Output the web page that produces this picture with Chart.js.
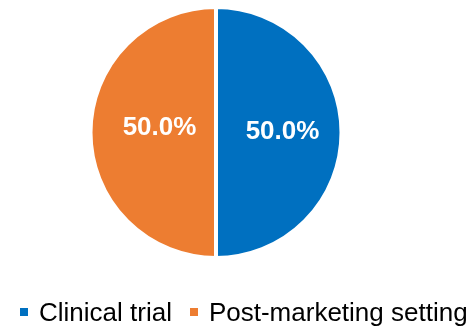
<!DOCTYPE html>
<html>
<head>
<meta charset="utf-8">
<script src="https://cdn.jsdelivr.net/npm/chart.js@4.4.0/dist/chart.umd.min.js"></script>
<style>
  html, body { margin: 0; padding: 0; background: #fff; }
  #wrap { position: relative; width: 472px; height: 327px; }
  #legend {
    position: absolute; left: 20px; top: 297px;
    display: flex; align-items: center; white-space: nowrap;
    font-family: "Liberation Sans", Arial, sans-serif; font-size: 26px; color: #000;
    line-height: 30px;
  }
  .item { display: flex; align-items: center; margin-right: 18px; }
  .box { width: 8px; height: 8px; margin-right: 11px; }
</style>
</head>
<body>
<div id="wrap">
  <canvas id="pieChart" width="472" height="327"></canvas>
  <div id="legend"></div>
</div>
<script>
// Chart data
const categories = ['Clinical trial', 'Post-marketing setting'];
const shares = [50, 50];
const colors = ['#0070C0', '#ED7D31'];

// Percentage labels drawn inside each slice
const sliceLabels = {
    id: 'sliceLabels',
    afterDatasetsDraw(chart, args, opts) {
        const ctx = chart.ctx;
        const meta = chart.getDatasetMeta(0);
        const data = chart.data.datasets[0].data;
        const total = data.reduce((a, b) => a + b, 0);
        ctx.save();
        ctx.fillStyle = '#fff';
        ctx.font = 'bold 26px "Liberation Sans", Arial, sans-serif';
        ctx.textAlign = 'center';
        ctx.textBaseline = 'middle';
        meta.data.forEach((arc, i) => {
            const p = arc.getProps(['x', 'y', 'startAngle', 'endAngle', 'outerRadius']);
            const mid = (p.startAngle + p.endAngle) / 2;
            const r = p.outerRadius * opts.radius[i];
            const text = (data[i] / total * 100).toFixed(1) + '%';
            ctx.fillText(text, p.x + Math.cos(mid) * r, p.y + Math.sin(mid) * r + opts.dy[i]);
        });
        ctx.restore();
    }
};

new Chart(document.getElementById('pieChart'), {
    type: 'pie',
    data: {
        labels: categories,
        datasets: [{
            data: shares,
            backgroundColor: colors,
            borderColor: '#fff',
            borderWidth: 4
        }]
    },
    options: {
        responsive: false,
        animation: false,
        layout: {
            padding: { left: 0, right: 40, top: 5, bottom: 67 }
        },
        plugins: {
            legend: { display: false },
            tooltip: { enabled: false },
            sliceLabels: { radius: [0.53, 0.45], dy: [-1, -5] }
        }
    },
    plugins: [sliceLabels]
});

// Legend below the pie
const legend = document.getElementById('legend');
categories.forEach((name, i) => {
    const item = document.createElement('div');
    item.className = 'item';
    item.innerHTML = `<span class="box" style="background:${colors[i]}"></span><span>${name}</span>`;
    legend.appendChild(item);
});
</script>
</body>
</html>
